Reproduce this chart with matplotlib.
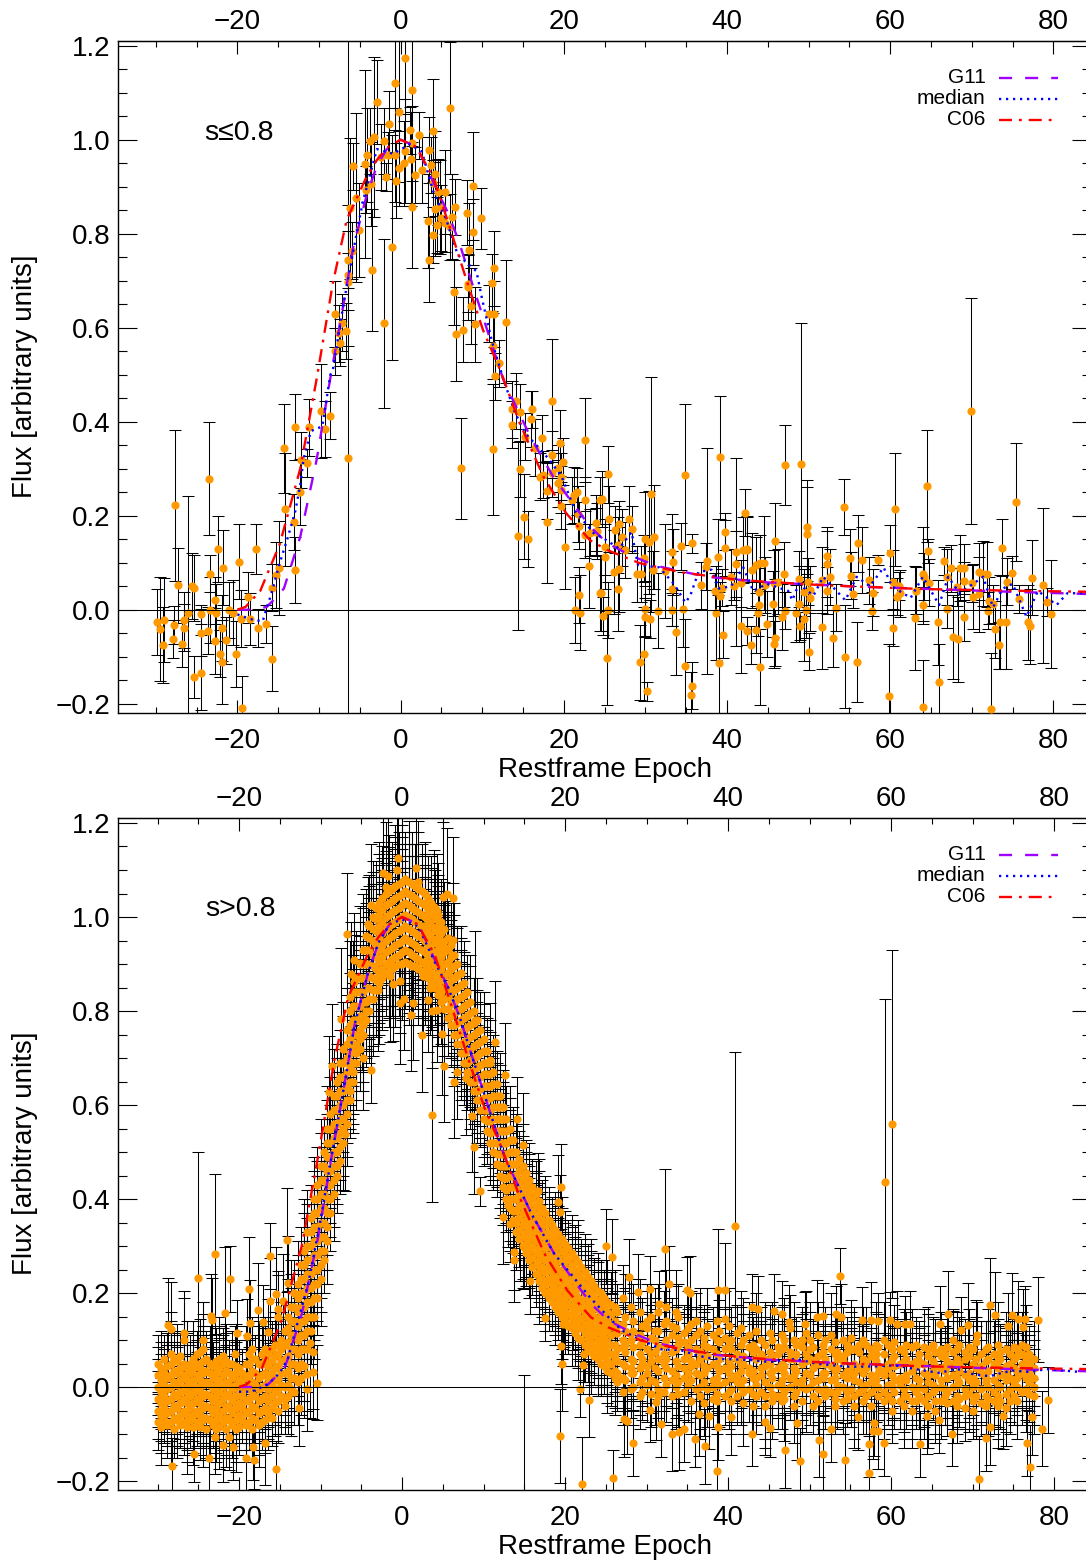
import matplotlib
matplotlib.use('Agg')
import matplotlib.pyplot as plt
from matplotlib.lines import Line2D
from matplotlib.ticker import MultipleLocator

plt.rcParams['font.family'] = ['Liberation Sans', 'DejaVu Sans']
plt.rcParams['lines.scale_dashes'] = False

W, H = 1086, 1561

# model curves, same in both panels
c06_x = [-20, -19, -17.2, -14.8, -12.3, -10.3, -8.3, -6.6, -4.2, -2.9, -1.5, 0, 1.9, 4, 6, 8.1, 10.1, 12.2, 14.6, 17.5, 20.3, 23.2, 25.3, 29.3, 34.6, 41.6, 51.8, 64, 76.3, 85]
c06_y = [0, .006, .04, .14, .30, .49, .695, .83, .92, .957, .985, 1, .985, .92, .815, .70, .595, .51, .397, .283, .205, .148, .127, .099, .079, .063, .052, .044, .04, .038]
g11_x = [-20, -18, -16.4, -15.6, -14.3, -12.3, -10.3, -8.65, -7, -5.8, -4.2, -2.9, -1.7, 0, 2, 4, 5.65, 7.1, 8.9, 11, 12.6, 15.9, 18.7, 23.2, 25.3, 28.1, 31.4, 37.5, 45, 55, 65, 75, 85]
g11_y = [0, 0, .006, .02, .045, .155, .318, .489, .65, .772, .879, .945, .98, 1, .985, .91, .85, .786, .687, .574, .489, .368, .283, .177, .142, .116, .093, .07, .058, .05, .044, .038, .033]

# median, top panel (s<=0.8)
med1_x = [-20, -18.4, -16.9, -16.4, -15.9, -14.8, -13.8, -12.9, -12.3, -11.9, -11, -9.6, -8.6, -8.3, -7, -5.4, -4.6, -2.9, -0.9, 1.1, 2.6, 4, 5.6, 7, 9.3, 10, 11.2, 12.6, 14, 15.3, 17.7, 19.7, 21.4, 23.8, 24.6, 26.8, 28.3, 29.1, 31.7, 33.5, 34.9, 35.5, 36.5, 38.1, 39, 40.5, 42, 43.2, 44.9, 47.5, 48, 48.8, 50.6, 51.8, 54.5, 55.9, 57.5, 59.2, 60.2, 62.5, 64, 66, 67.1, 68.5, 71.4, 72.6, 73.8, 75, 76.7, 78.1, 80.4, 81.7, 85]
med1_y = [-.01, -.02, -.025, .005, .03, .10, .155, .21, .265, .32, .38, .39, .50, .51, .65, .80, .87, .98, .97, .99, .975, .89, .83, .755, .72, .66, .57, .49, .42, .375, .33, .285, .21, .16, .155, .13, .165, .095, .09, .055, .015, .03, .08, .085, .045, .05, .09, .04, .055, .04, .02, .055, .03, .07, .02, .07, .05, .09, .05, .025, .07, .01, .07, .035, .07, .005, .045, .055, -.015, .04, .01, .035, .035]

# median, bottom panel (s>0.8)
med2_x = [-20, -18.5, -16.5, -15, -14, -13, -11.5, -10.1, -8.5, -7, -5.8, -4.2, -2.9, -1.5, 0, 2, 4, 5.65, 7.1, 8.9, 11, 12.6, 15.9, 18.7, 23.1, 25.3, 27, 29, 31.9, 34.1, 36.2, 38.2, 40.6, 43.1, 45.2, 48.4, 50.7, 53, 55, 58.2, 60.5, 64, 66, 68, 70.1, 72.1, 73.6, 75, 76.9, 79.1, 83.2]
med2_y = [-.01, -.01, .005, .03, .06, .125, .22, .345, .505, .65, .772, .879, .945, .985, .995, .98, .905, .85, .786, .687, .574, .489, .368, .283, .19, .149, .12, .103, .08, .079, .067, .06, .059, .057, .053, .06, .05, .046, .043, .044, .046, .035, .03, .039, .027, .023, .03, .035, .032, .038, .032]

# single measurements, top panel
top_x = [-29.8, -29.5, -29, -29.1, -27.8, -27.9, -27.6, -27.3, -26.6, -26.5,
         -26.8, -26.1, -25.6, -25.3, -25.3, -24.4, -24.5, -24.4, -23.5, -23.6,
         -23.4, -23.3, -22.7, -22.6, -22.7, -22.4, -22.1, -21.9, -21.9, -21.8,
         -21.4, -21, -20.6, -20.2, -19.8, -19.6, -19.4, -18.7, -18.5, -17.7,
         -17.5, -16.5, -15.8, -15.8, -15.3, -14.9, -14.3, -14.2, -13.1, -13,
         -13, -12.3, -12.2, -11.5, -11.2, -9.8, -9.3, -8.7, -6.5, -8.1,
         -8, -7.2, -7.6, -6.7, -7.4, -6.4, -6.5, -6.5, -6, -5.1,
         -3.5, -6.2, -5.5, -5.8, -4.4, -4.1, -4.2, -3.6, -3.7, -3.2,
         -2.9, -2, -1.8, -2, -1.4, -2.4, -1.6, -1.1, -.7, -.7,
         -.6, -.2, -.2, .6, .6, .4, 1.4, 1.4, 1.3, 1.2,
         1.4, 1.8, 2.2, 2.6, 4, 3.5, 3.7, 3.5, 3.4, 4.2,
         4, 4.2, 4, 4.4, 4.8, 4.6, 5.5, 5, 5.4, 6.1,
         6.3, 6.7, 6, 6.5, 6.8, 7.6, 8.4, 8.1, 8.9, 8.9,
         9.8, 8.2, 8.3, 8.6, 9.1, 11.4, 11.2, 10.8, 11.4, 12.9,
         11.3, 12, 11.6, 7.4, 11.3, 14.1, 13.7, 14.6, 13.6, 14.6,
         14.4, 15.1, 15.6, 16.1, 16, 15.2, 16.5, 17.3, 18.6, 17.1,
         17.5, 18.5, 18, 18, 19.5, 18.5, 19.3, 19.9, 19.7, 19.3,
         19.7, 19.6, 20.2, 21.2, 21.6, 21, 21.8, 21.9, 22.6, 22.6,
         21.4, 21.9, 22, 22.6, 23.2, 24, 24, 23.1, 24.4, 24.4,
         24.1, 24.7, 25.4, 25.5, 25, 25, 24.5, 24.8, 25.4, 25.3,
         26.1, 26.8, 26.6, 26.3, 26.8, 27.1, 26.6, 28, 28.4, 27.5,
         29, 29.3, 29.5, 29.8, 30, 29.9, 30, 29.8, 30.2, 30.6,
         30.5, 31.1, 30.7, 30.9, 31.6, 32.4, 33.2, 33.4, 33.3, 33.3,
         33.7, 34.4, 34.8, 34.6, 34.9, 35.7, 35.7, 35.6, 36.8, 37.4,
         37.6, 38.9, 38.5, 38.7, 39.1, 39.4, 39.2, 39, 39.5, 39.8,
         39.8, 40.5, 40.8, 41.1, 41.1, 41.7, 41.7, 42.2, 42.4, 41.9,
         42.5, 42.4, 42.9, 43.1, 43.6, 43.9, 43.9, 43.8, 43.5, 44.1,
         44, 44.5, 44.7, 44.9, 45.6, 45.9, 45.9, 45.8, 45.7, 46.3,
         46.7, 47, 47.1, 47.1, 48.5, 48.8, 48.8, 48.9, 49.1, 49.4,
         49.4, 49.7, 49.8, 49.8, 49.9, 50.2, 50.2, 50.1, 51.6, 51.7,
         52.2, 52.3, 52.6, 52.3, 53, 53.3, 54.3, 54.5, 55.1, 55.2,
         55.5, 55.9, 56, 56.5, 57.4, 57.9, 57.8, 58.5, 60, 59.8,
         60.3, 60.6, 60.3, 60.8, 61.1, 61.2, 63, 63.2, 64, 64,
         64, 64.1, 64.5, 64.6, 64.8, 65.8, 66, 66.6, 67, 67,
         67.4, 67.7, 68.3, 68.2, 68.5, 69, 69, 69, 69.9, 70,
         70.1, 70.9, 70.9, 71.4, 71.9, 72.1, 72, 72.6, 72.4, 72.8,
         73.3, 73.5, 74.2, 73.7, 74.3, 74.9, 75.4, 75.8, 76.9, 77.1,
         77.4, 78.7, 79.2, 79.7]
top_y = [-.027, -.041, -.022, -.075, -.033, -.062, .222, .052, -.038, -.022,
         -.072, -.008, .05, .047, -.143, -.134, -.01, -.049, .279, -.045,
         0, .077, .02, -.006, -.067, .13, -.094, -.039, -.111, .089,
         -.065, 0, -.006, -.094, .102, -.019, -.21, .026, -.02, .13,
         -.039, -.031, -.104, .047, .073, .088, .343, .214, .186, .389,
         .085, .251, .319, .312, .388, .423, .384, .413, .323, .55,
         .63, .611, .588, .593, .568, .712, .698, .745, .764, .808,
         .723, .854, .877, .943, .949, .968, .893, .906, .998, 1.005,
         1.08, .998, .921, .609, 1.033, .964, .967, .771, 1.12, .967,
         .913, 1.06, .939, 1.174, .976, .95, 1.105, .857, .96, 1.02,
         .992, .925, 1.01, .935, 1.019, .978, .946, .745, .828, .928,
         .907, .852, .797, .818, .857, .889, .889, .833, .822, 1.067,
         .836, .857, .815, .675, .586, .596, .765, .845, .901, .804,
         .833, .687, .694, .646, .607, .726, .696, .63, .63, .613,
         .561, .524, .497, .301, .341, .444, .426, .42, .394, .299,
         .157, .198, .15, .426, .406, .368, .345, .365, .445, .283,
         .287, .29, .252, .186, .354, .33, .301, .315, .283, .269,
         .255, .221, .134, .244, .251, .233, .203, .179, .233, .361,
         -.001, .031, -.006, .159, .164, .185, .166, .093, .035, .233,
         .167, .235, .288, .193, .134, .113, .035, -.013, 0, -.102,
         .08, .086, .045, .17, .182, .154, .138, .194, .171, .127,
         .076, -.112, .076, .109, .15, .001, -.016, -.094, -.174, -.02,
         .143, .155, .246, .084, -.002, .082, .123, .101, 0, .045,
         -.048, .135, .287, .001, -.119, .141, -.162, -.182, .052, .091,
         .104, .112, .039, -.008, .03, .047, .324, -.113, -.053, .166,
         .131, .07, .05, .123, .098, .056, -.035, .206, .128, .127,
         .13, -.045, -.075, .084, .095, .038, .01, -.006, -.043, -.122,
         .1, .1, .052, -.03, .012, .146, -.06, -.074, .057, .06,
         -.016, .075, .307, -.002, -.008, .065, .012, -.034, .311, .037,
         -.02, 0, .177, .162, .06, .042, .024, -.089, -.037, .063,
         .098, .115, .07, .04, -.061, .004, .218, -.1, .111, .072,
         .033, -.111, .141, .106, .063, .036, -.003, .106, .12, -.184,
         .058, .214, -.038, .028, .051, .035, -.018, .04, .009, .077,
         -.208, .07, .263, .125, .057, -.027, -.153, .104, .07, .001,
         .088, -.058, -.063, .048, .088, .089, -.016, .061, .423, .056,
         .028, .081, .033, .077, .075, .019, -.002, .012, -.212, -.042,
         -.076, -.026, -.027, .132, .06, .079, .229, .022, -.027, -.035,
         .068, .052, .017, -.009]
top_e = [.07, .11, .09, .08, .04, .04, .16, .08, .05, .06,
         .05, .25, .07, .07, .045, .08, .02, .05, .12, .05,
         .07, .04, .05, .06, .07, .07, .05, .07, .09, .08,
         .05, .06, .07, .07, .08, .06, .07, .055, .055, .053,
         .04, .04, .07, .05, .07, .10, .095, .12, .06, .07,
         .07, .07, .06, .03, .06, .10, .06, .05, 1.0, .05,
         .07, .06, .06, .06, .05, .15, .06, .06, .06, .10,
         .13, .15, .18, .05, .20, .10, .05, .09, .07, .17,
         .09, .07, .03, .18, .07, .07, .05, .24, .10, .10,
         .08, .15, .08, .12, .11, .09, .11, .13, .10, .05,
         .08, .06, .05, .07, .11, .07, .06, .09, .10, .09,
         .05, .10, .06, .06, .10, .07, .09, .07, .06, .14,
         .09, .06, .07, .07, .10, .07, .10, .07, .115, .07,
         .065, .07, .06, .08, .08, .08, .06, .06, .07, .13,
         .07, .05, .05, .107, .14, .06, .06, .06, .05, .06,
         .20, .09, .06, .04, .06, .05, .06, .05, .13, .05,
         .05, .05, .06, .13, .07, .05, .05, .05, .05, .05,
         .05, .05, .09, .06, .05, .05, .06, .05, .05, .09,
         .07, .06, .08, .05, .05, .06, .05, .09, .08, .05,
         .06, .06, .06, .07, .06, .07, .08, .04, .06, .10,
         .09, .09, .09, .05, .05, .06, .06, .07, .05, .06,
         .06, .08, .06, .05, .10, .06, .04, .10, .02, .04,
         .11, .11, .25, .04, .08, .10, .08, .07, .035, .08,
         .09, .05, .15, .08, .10, .02, .05, .05, .05, .05,
         .24, .08, .04, .10, .03, .04, .13, .15, .05, .04,
         .06, .06, .03, .20, .07, .05, .10, .05, .07, .07,
         .07, .03, .04, .08, .06, .05, .05, .05, .05, .08,
         .06, .10, .06, .07, .07, .08, .06, .05, .07, .07,
         .07, .07, .085, .04, .06, .06, .08, .03, .30, .05,
         .09, .06, .10, .10, .05, .05, .07, .04, .09, .07,
         .07, .06, .06, .05, .06, .05, .06, .11, .06, .05,
         .03, .085, .06, .07, .05, .05, .04, .01, .06, .11,
         .07, .12, .04, .04, .03, .05, .11, .05, .04, .10,
         .10, .05, .12, .025, .05, .09, .08, .03, .06, .04,
         .05, .09, .09, .04, .07, .05, .05, .04, .24, .04,
         .07, .06, .08, .07, .07, .05, .04, .04, .12, .06,
         .05, .10, .10, .06, .05, .035, .125, .03, .08, .08,
         .08, .165, .03, .115]

# isolated measurements, bottom panel
bot_x = [-28.7, -28.3, -26.8, -26.8, -25, -24.4, -23.4, -23.3, -23, -21.7,
         -21.1, -20.2, -18.8, -19, -18.6, -17.7, -17.1, -16.2, -16.2, -15.5,
         -15.2, -15.2, -14.6, -14.1, -14, -16.4, -20.5, -25.5, -23.7, -28.2,
         -19.2, -18.2, -15.5, -18.3, -16.8, -20.7, -22, -22.9, -21.2, -12.6,
         -11.3, -10.9, -11.7, -10.9, -11.6, -10.4, -.45, -.6, -2.3, -1.7,
         1.7, 2, -2, 5, 5.5, 6.3, 3.9, 4.3, -3.8, -4.2,
         -6.7, 6.2, 5.3, 6, 6.7, -5.9, -5.2, -6.3, -5.9, -6.4,
         -2.9, -1.5, -1.1, -.3, 2.6, 3.4, -.3, .2, 1.4, 1.1,
         3.2, 3.7, 4.3, 2.4, 4.9, 5.2, 6.8, 6.4, 7.8, 3.7,
         -3.8, -7.5, -8.6, -8.9, -7, -4.8, -4.9, 12.6, 11.4, 10.8,
         8.9, 14.1, 8.8, 8.6, 14.8, 9.6, 12.4, 13.2, 13, 14.5,
         15, 13.7, 13.7, 15.7, 17.5, 16.7, 19.5, 19.2, 19.4, 19.7,
         19.9, 19.5, 19.6, 19.4, 22.1, 22.3, 22.2, 21.9, 23, 21,
         15, 25, 25.8, 27.8, 29, 30.4, 32.3, 32.8, 35, 35.3,
         31.5, 40.9, 38.8, 39.6, 53.8, 60.1, 59.3, 43, 43.7, 45.6,
         46.6, 47.5, 49.5, 50.9, 51.7, 53.3, 53.9, 56.4, 57.5, 58.4,
         59.9, 60.7, 61.7, 62.3, 67, 66, 69.5, 68.6, 72.1, 72.7,
         74.8, 74.3, 75.6, 76.4, 78, 70.5, 67.6, 76.2, 25.9, 28.4,
         27.2, 27.6, 30.4, 31.2, 31.8, 33.1, 34, 34.6, 35.9, 37.2,
         36.5, 37.7, 38.8, 38.6, 40.4, 43, 44.6, 45.2, 47, 48.5,
         48.8, 51.2, 51.6, 52.6, 54.4, 57.3, 57.3, 57.8, 58.4, 59.2,
         57.9, 55.9, 63.6, 64.4, 65.9, 67.5, 71.6, 72.2, 70.8, 73.7,
         76.7, 77.1, 78.5, 77.3, 79.3]
bot_y = [.131, .123, .115, .1, .231, .1, .151, .142, .283, .158,
         .23, .115, .209, .108, .137, .163, .138, .279, .184, .198,
         .167, .149, .184, .313, .222, .117, .07, -.143, -.15, -.169,
         -.152, -.156, -.174, -.128, -.119, -.128, -.123, -.106, -.106, -.045,
         .094, .074, .028, .032, -.004, .009, 1.125, 1.1, 1.093, 1.088,
         1.105, 1.075, 1.063, 1.043, 1.049, 1.04, 1.022, 1.013, 1.026, .986,
         .963, .952, .933, .894, .877, .908, .903, .879, .862, .829,
         .845, .875, .857, .864, .874, .848, .818, .826, .816, .792,
         .823, .799, .802, .748, .751, .684, .671, .65, .657, .579,
         .674, .783, .684, .627, .538, .699, .774, .664, .733, .696,
         .781, .57, .511, .577, .515, .416, .362, .346, .387, .316,
         .298, .287, .27, .225, .147, .418, .426, .394, .372, .135,
         .156, .087, .05, -.104, -.206, .071, .046, -.004, -.027, .138,
         -.24, .299, .277, .235, .202, .209, .293, .22, .207, .199,
         .176, .343, .207, .206, .236, .56, .436, .17, .167, .161,
         .155, .138, .133, .148, .151, .155, .15, .142, .143, .14,
         .142, .135, .133, .135, .156, .135, .131, .121, .175, .154,
         .153, .13, .145, .145, .143, .11, .101, .128, -.194, -.119,
         -.068, -.072, -.048, -.032, -.079, -.099, -.096, -.089, -.111, -.126,
         -.057, -.062, -.085, -.179, -.064, -.099, -.074, -.088, -.135, -.076,
         -.158, -.112, -.142, -.089, -.156, -.184, -.121, -.094, -.094, -.119,
         -.077, -.064, -.121, -.062, -.07, -.099, -.109, -.085, -.195, -.062,
         -.119, -.17, -.089, -.064, -.028]
bot_e = [.10, .10, .09, .09, .27, .08, .09, .09, .17, .14,
         .07, .07, .11, .08, .09, .10, .08, .07, .09, .10,
         .08, .09, .10, .11, .10, .07, .06, .06, .07, .06,
         .07, .06, .06, .07, .09, .07, .08, .08, .07, .08,
         .16, .12, .08, .10, .09, .08, .12, .12, .16, .13,
         .11, .13, .14, .16, .14, .13, .12, .12, .13, .10,
         .13, .12, .11, .10, .10, .10, .12, .11, .10, .12,
         .13, .14, .12, .11, .12, .10, .13, .11, .12, .12,
         .11, .12, .11, .12, .13, .12, .10, .12, .12, .186,
         .07, .15, .13, .12, .12, .11, .10, .11, .13, .12,
         .19, .09, .10, .12, .11, .03, .10, .08, .09, .09,
         .09, .08, .09, .07, .05, .08, .09, .10, .08, .09,
         .07, .08, .10, .10, .10, .06, .06, .06, .08, .06,
         .265, .08, .08, .08, .08, .07, .17, .08, .07, .08,
         .07, .37, .13, .10, .06, .37, .39, .07, .07, .08,
         .07, .08, .07, .08, .07, .06, .07, .07, .08, .06,
         .06, .07, .06, .07, .09, .08, .09, .07, .10, .09,
         .09, .07, .08, .07, .09, .07, .06, .08, .06, .07,
         .08, .07, .07, .08, .07, .08, .08, .07, .06, .08,
         .09, .07, .07, .09, .08, .07, .07, .06, .08, .08,
         .07, .08, .08, .07, .08, .08, .07, .06, .08, .07,
         .07, .07, .07, .08, .07, .07, .07, .08, .09, .07,
         .07, .09, .08, .08, .07]

# dense part of the bottom panel, one column of fluxes per epoch
band_x = [-30, -29.6, -29.2, -28.8, -28.4, -28, -27.6, -27.2, -26.8, -26.4,
          -26, -25.6, -25.2, -24.8, -24.4, -24, -23.6, -23.2, -22.8, -22.4,
          -22, -21.6, -21.2, -20.8, -20.4, -20, -19.6, -19.2, -18.8, -18.4,
          -18, -17.6, -17.2, -16.8, -16.4, -16, -15.6, -15.2, -14.8, -14.4,
          -14, -13.6, -13.2, -12.8, -12.4, -12, -11.6, -11.2, -10.8, -10.4,
          -10, -9.6, -9.2, -8.8, -8.4, -8, -7.6, -7.2, -6.8, -6.4,
          -6, -5.6, -5.2, -4.8, -4.4, -4, -3.6, -3.2, -2.8, -2.4,
          -2, -1.6, -1.2, -.8, -.4, 0, .4, .8, 1.2, 1.6,
          2, 2.4, 2.8, 3.2, 3.6, 4, 4.4, 4.8, 5.2, 5.6,
          6, 6.4, 6.8, 7.2, 7.6, 8, 8.4, 8.8, 9.2, 9.6,
          10, 10.4, 10.8, 11.2, 11.6, 12, 12.4, 12.8, 13.2, 13.6,
          14, 14.4, 14.8, 15.2, 15.6, 16, 16.4, 16.8, 17.2, 17.6,
          18, 18.4, 18.8, 19.2, 19.6, 20, 20.4, 20.8, 21.2, 21.6,
          22, 22.4, 22.8, 23.2, 23.6, 24, 24.4, 24.8, 25.2, 25.6,
          26.1, 26.4, 27.1, 27.4, 28.1, 28.3, 29.2, 29.4, 30, 30.6,
          31.1, 31.4, 32.1, 32.4, 33.1, 33.6, 33.9, 34.6, 35.1, 35.4,
          36.1, 36.6, 37.1, 37.4, 38.1, 38.6, 38.9, 39.6, 40.1, 40.4,
          41.1, 41.6, 41.9, 42.6, 43.1, 43.4, 44.1, 44.6, 45.1, 45.4,
          46.1, 46.6, 46.9, 47.6, 48.1, 48.4, 49.1, 49.6, 50.1, 50.4,
          51.1, 51.6, 51.9, 52.6, 53.1, 53.4, 54.1, 54.6, 55.1, 55.4,
          56.1, 56.6, 56.9, 57.6, 58.1, 58.4, 59.1, 59.6, 60.1, 60.4,
          61.1, 61.6, 61.9, 62.6, 63.1, 63.4, 64.1, 64.6, 65.1, 65.4,
          66.1, 66.6, 66.9, 67.6, 68.1, 68.4, 69.1, 69.6, 70.1, 70.4,
          71.1, 71.6, 71.9, 72.6, 73.1, 73.4, 74.1, 74.6, 75.1, 75.4,
          76.1, 76.6, 76.9, 77.6, 78.1, 78.4, 79.1, 79.6, 80]
band_e = [.06, .08, .05, .07, .09, .06, .08, .05, .07, .10,
          .06, .08, .05, .07, .10, .06, .08, .05, .07, .09,
          .06, .08, .05, .07, .09, .06, .05, .08, .06, .07,
          .05, .09, .06, .07, .08, .06, .07, .07, .08, .06,
          .08, .10, .07, .09, .08, .11, .09, .07, .09, .08,
          .10, .07, .09, .08, .10, .08, .07, .10, .09, .08,
          .11, .10, .09, .12, .10, .11, .12, .10, .13, .11,
          .09, .12, .10, .13, .11, .12, .10, .13, .11, .09,
          .12, .10, .11, .09, .10, .08, .11, .09, .10, .08,
          .09, .11, .08, .10, .09, .08, .10, .07, .09, .08,
          .10, .07, .09, .08, .07, .09, .08, .07, .09, .07,
          .08, .06, .09, .07, .08, .06, .07, .09, .06, .08,
          .07, .06, .08, .06, .09, .07, .06, .08, .07, .09,
          .06, .08, .07, .09, .06, .08, .07, .06, .09, .07,
          .08, .06, .07, .09, .06, .08, .07, .06, .08, .07,
          .09, .06, .07, .08, .06, .09, .07, .06, .08, .07,
          .06, .09, .07, .08, .06, .07, .09, .06, .08, .07,
          .06, .08, .09, .07, .06, .08, .07, .09, .06, .08,
          .07, .06, .09, .07, .08, .06, .07, .09, .08, .06,
          .07, .08, .07, .09, .06, .08, .07, .06, .08, .09,
          .06, .07, .08, .06, .09, .07, .08, .06, .07, .08,
          .06, .09, .07, .08, .06, .07, .08, .09, .06, .07,
          .08, .06, .07, .09, .08, .06, .07, .08, .06, .09,
          .07, .06, .08, .07, .09, .06, .08, .07, .06, .08,
          .07, .09, .06, .08, .07, .06, .08, .07, .06]
band_y = [
    [.05, .025, 0, -.025, -.05, -.075], [.04, .015, -.01, -.035, -.06, -.085], [.06, .03, .005, -.02, -.045, -.07], [.045, .02, -.005, -.03, -.055, -.08], [.07, .05, .025, 0, -.025, -.05, -.075],
    [.06, .035, .01, -.015, -.04, -.065, -.09], [.055, .03, .005, -.02, -.045, -.07], [.065, .04, .015, -.01, -.035, -.06, -.08], [.05, .025, 0, -.025, -.05, -.075], [.04, .015, -.01, -.035, -.06, -.085],
    [.05, .03, .005, -.02, -.045, -.07], [.06, .04, .015, -.01, -.035, -.06, -.085], [.07, .05, .025, 0, -.025, -.05, -.075], [.075, .04, .015, -.01, -.035, -.06, -.085], [.08, .055, .03, .005, -.02, -.045, -.07],
    [.06, .035, .01, -.015, -.04, -.065, -.09], [.05, .03, .005, -.02, -.045, -.07], [.045, .02, -.005, -.03, -.055, -.08], [.055, .03, .005, -.02, -.045, -.07, -.09], [.06, .04, .015, -.01, -.035, -.06, -.085],
    [.065, .05, .025, 0, -.025, -.05, -.075], [.055, .035, .01, -.015, -.04, -.065, -.09], [.05, .03, .005, -.02, -.045, -.07], [.05, .02, -.005, -.03, -.055, -.08], [.045, .03, .005, -.02, -.045, -.07, -.09],
    [.04, .015, -.01, -.035, -.06, -.085], [.03, .005, -.02, -.045, -.07], [.05, .02, -.005, -.03, -.055, -.08], [.07, .05, .025, 0, -.025, -.05, -.075], [.08, .06, .035, .01, -.015, -.04, -.065, -.09],
    [.06, .03, .005, -.02, -.045, -.07], [.05, .02, -.005, -.03, -.055, -.08], [.07, .05, .025, 0, -.025, -.05, -.075], [.08, .055, .03, .005, -.02, -.045, -.07], [.07, .045, .02, -.005, -.03, -.055],
    [.08, .055, .03, .005, -.02, -.045, -.065], [.09, .065, .04, .015, -.01, -.035], [.09, .07, .045, .02, -.005, -.03, -.05], [.1, .08, .055, .03, .005, -.02], [.12, .09, .06, .03, 0, -.025, -.04],
    [.15, .125, .095, .065, .035, .005, -.02], [.17, .14, .11, .08, .05, .02, -.005], [.2, .17, .14, .11, .08, .05, .02, -.01], [.22, .19, .16, .13, .1, .07, .04, .01], [.26, .23, .2, .17, .14, .11, .08, .05, .02],
    [.29, .26, .23, .2, .17, .14, .11, .08, .045], [.33, .3, .27, .24, .21, .18, .15, .12, .08], [.36, .33, .3, .27, .24, .21, .18, .15, .12], [.4, .37, .34, .31, .28, .25, .22, .19, .15], [.43, .4, .37, .34, .31, .28, .25, .22, .19],
    [.47, .44, .41, .38, .35, .32, .29, .26, .23], [.5, .47, .44, .41, .38, .35, .32, .29, .27], [.55, .52, .49, .46, .43, .4, .37, .34, .31], [.58, .55, .52, .49, .46, .43, .4, .37], [.62, .59, .56, .53, .5, .47, .44, .41],
    [.65, .62, .59, .56, .53, .5, .47, .45], [.69, .66, .63, .6, .57, .54, .51, .48], [.72, .69, .66, .63, .6, .57, .55, .52], [.76, .73, .7, .67, .64, .61, .58, .56], [.8, .77, .74, .71, .68, .65, .63, .61],
    [.84, .81, .78, .75, .72, .69, .67, .65], [.87, .84, .81, .78, .75, .73, .71, .69], [.9, .87, .84, .81, .79, .76, .74, .72], [.93, .9, .87, .84, .82, .79, .77, .75], [.96, .93, .9, .87, .85, .82, .8, .78],
    [.98, .955, .93, .9, .875, .85, .825, .8], [1, .975, .95, .92, .895, .87, .845, .825], [1.02, .995, .97, .94, .915, .89, .865, .845], [1.03, 1.005, .98, .955, .93, .905, .88, .86], [1.04, 1.015, .99, .965, .94, .915, .89, .87],
    [1.05, 1.025, 1, .975, .95, .925, .9, .88], [1.055, 1.03, 1.005, .98, .955, .93, .905, .885], [1.06, 1.035, 1.01, .985, .96, .935, .91, .89], [1.065, 1.04, 1.015, .99, .965, .94, .915, .895], [1.07, 1.045, 1.02, .995, .97, .945, .92, .9],
    [1.075, 1.05, 1.025, 1, .975, .95, .925, .9], [1.08, 1.055, 1.03, 1.005, .98, .955, .93, .905], [1.075, 1.05, 1.025, 1, .975, .95, .925, .9], [1.07, 1.045, 1.02, .995, .97, .945, .92, .895], [1.065, 1.04, 1.015, .99, .965, .94, .915, .895],
    [1.06, 1.035, 1.01, .985, .96, .935, .91, .89], [1.055, 1.03, 1.005, .98, .955, .93, .905, .885], [1.05, 1.025, 1, .975, .95, .925, .9, .88], [1.04, 1.015, .99, .965, .94, .915, .89, .87], [1.03, 1.005, .98, .955, .93, .905, .88, .86],
    [1.02, .995, .97, .945, .92, .895, .87, .85], [1.005, .98, .955, .93, .905, .88, .855, .835], [.99, .965, .94, .915, .89, .865, .84, .82], [.975, .95, .925, .9, .875, .85, .825, .805], [.955, .93, .905, .88, .855, .83, .805, .785],
    [.94, .915, .89, .865, .84, .815, .79, .77], [.92, .895, .87, .845, .82, .795, .77, .75], [.9, .875, .85, .825, .8, .775, .75, .73], [.88, .855, .83, .805, .78, .755, .73, .71], [.86, .835, .81, .785, .76, .735, .71, .69],
    [.84, .815, .79, .765, .74, .715, .69, .67], [.82, .795, .77, .745, .72, .695, .67, .65], [.8, .775, .75, .725, .7, .675, .65, .63], [.78, .755, .73, .705, .68, .655, .63, .61], [.76, .735, .71, .685, .66, .635, .61, .59],
    [.74, .715, .69, .665, .64, .615, .59, .57], [.715, .69, .665, .64, .615, .59, .565, .545], [.69, .665, .64, .615, .59, .565, .54, .52], [.67, .645, .62, .595, .57, .545, .52, .5], [.645, .62, .595, .57, .545, .52, .495, .475],
    [.62, .595, .57, .545, .52, .495, .47, .45], [.595, .57, .545, .52, .495, .47, .445, .425], [.57, .545, .52, .495, .47, .445, .42, .4], [.55, .525, .5, .475, .45, .425, .4, .38], [.525, .5, .475, .45, .425, .4, .375, .355],
    [.5, .475, .45, .425, .4, .375, .35, .33], [.485, .46, .435, .41, .385, .36, .335, .315], [.47, .445, .42, .395, .37, .345, .32, .3], [.455, .43, .405, .38, .355, .33, .305, .285], [.44, .415, .39, .365, .34, .315, .29, .27],
    [.425, .4, .375, .35, .325, .3, .275, .255], [.41, .385, .36, .335, .31, .285, .26, .24], [.395, .37, .345, .32, .295, .27, .245, .225], [.38, .355, .33, .305, .28, .255, .23, .21], [.37, .345, .32, .295, .27, .245, .22, .2],
    [.355, .33, .305, .28, .255, .23, .205, .19], [.345, .32, .295, .27, .245, .22, .195, .18], [.335, .31, .285, .26, .235, .21, .19, .17], [.325, .3, .275, .25, .225, .2, .18, .16], [.315, .29, .265, .24, .215, .19, .17, .15],
    [.305, .28, .255, .23, .205, .18, .16, .14], [.295, .27, .245, .22, .195, .175, .155, .13], [.285, .26, .235, .21, .19, .17, .15, .125], [.275, .25, .225, .2, .18, .16, .14, .115], [.265, .24, .215, .19, .17, .15, .13, .105],
    [.255, .23, .21, .185, .165, .145, .125, .1], [.245, .22, .2, .175, .155, .135, .115, .09], [.235, .21, .19, .17, .15, .13, .105, .08], [.225, .2, .18, .16, .14, .12, .095, .075], [.215, .19, .17, .15, .13, .11, .085, .065],
    [.205, .185, .165, .145, .125, .1, .08, .06], [.2, .175, .155, .135, .115, .09, .07, .05], [.19, .17, .15, .13, .105, .085, .065, .045], [.18, .16, .14, .12, .095, .075, .055, .035], [.175, .155, .13, .11, .09, .07, .05, .03],
    # tail
    [.17, .14, .125, .09, .07, .06, .035, .02], [.16, .13, .115, .08, .055, .03, .01], [.19, .135, .1, .085, .05, .02, -.01], [.15, .12, .09, .075, .045, .015], [.17, .115, .1, .06, .04, .03, -.005],
    [.14, .12, .085, .055, .03, 0], [.16, .11, .09, .07, .04, .01, -.02], [.13, .095, .06, .05, .02, -.01], [.14, .125, .08, .045, .03, .005], [.15, .105, .07, .055, .015, -.015],
    [.12, .1, .075, .04, .01], [.16, .12, .085, .06, .035, -.005, -.02], [.135, .09, .07, .05, .02, -.01], [.17, .14, .1, .06, .04, .005], [.13, .11, .075, .035, .015, -.02],
    [.16, .125, .08, .055, .025, 0], [.15, .105, .09, .045, .01, -.015], [.115, .095, .06, .04, .02, -.01], [.125, .085, .07, .03, .005], [.135, .1, .055, .045, .015, -.03],
    [.14, .11, .08, .05, .03, -.005], [.12, .075, .06, .025, 0, -.02], [.105, .09, .045, .03, .01, -.035], [.13, .085, .065, .04, -.005], [.11, .08, .05, .015, 0, -.025],
    [.14, .1, .07, .045, .02, -.015, -.03], [.12, .095, .06, .035, .005], [.145, .105, .08, .04, .01, -.02], [.13, .09, .055, .03, -.01], [.1, .08, .045, .02, -.005, -.03],
    [.115, .07, .06, .025, .01, -.02], [.125, .09, .05, .035, 0], [.1, .065, .05, .015, -.01, -.035], [.11, .085, .04, .03, -.005], [.09, .075, .035, .02, -.015, -.04],
    [.12, .08, .06, .02, .005, -.02], [.1, .07, .04, .025, -.01], [.09, .06, .045, .01, -.02, -.04], [.115, .075, .05, .03, 0], [.1, .065, .035, .02, -.015, -.03],
    [.085, .07, .04, .005, -.02], [.11, .08, .05, .015, 0, -.03], [.1, .085, .045, .03, -.01, -.025], [.125, .075, .06, .02, 0], [.1, .06, .04, .025, -.02, -.04],
    [.09, .07, .035, .01, -.01], [.1, .085, .05, .015, 0, -.03], [.115, .07, .055, .03, -.005], [.1, .08, .06, .025, 0], [.085, .055, .04, .01, -.02, -.04],
    [.11, .065, .05, .015, -.005, -.03], [.09, .075, .03, .02, -.01], [.1, .06, .05, .03, -.005, -.02], [.11, .08, .045, .015, -.01], [.095, .07, .035, .02, -.025, -.04],
    [.075, .06, .04, .005, -.01], [.1, .065, .055, .025, 0, -.03], [.09, .075, .035, .02, -.01, -.025], [.105, .08, .045, .03, -.005], [.08, .05, .03, .015, -.02, -.04],
    [.09, .075, .04, .01, -.01], [.1, .06, .05, .03, -.005, -.03], [.09, .055, .04, .005, -.02], [.08, .065, .025, .01, -.01, -.04], [.09, .07, .055, .015, 0],
    [.085, .045, .03, 0, -.02], [.1, .07, .035, .025, -.01, -.03], [.09, .05, .04, .005, -.02], [.08, .06, .025, 0, -.03, -.05], [.095, .065, .045, .015, -.01],
    [.08, .05, .02, .005, -.03], [.075, .055, .02, -.005, -.02, -.04], [.09, .06, .025, .015, -.02], [.085, .05, .035, 0, -.03, -.05], [.09, .055, .045, .02, -.01, -.03],
    [.07, .055, .015, 0, -.02], [.085, .05, .03, -.005, -.03], [.08, .065, .025, .01, -.02, -.04], [.09, .055, .035, .005, -.01], [.075, .045, .025, -.005, -.03, -.05],
    [.08, .065, .04, .015, 0, -.03], [.07, .045, .035, -.005, -.02], [.085, .055, .045, .02, -.01, -.035], [.075, .05, .025, 0, -.03], [.08, .06, .02, .005, -.02, -.04],
    [.09, .05, .035, .01, -.025], [.075, .06, .025, -.005, -.02, -.045], [.085, .065, .03, .015, -.015], [.08, .05, .02, 0, -.03, -.05], [.095, .06, .04, .01, -.02],
    [.07, .045, .03, -.005, -.035], [.08, .055, .02, .01, -.02, -.04], [.085, .06, .035, 0, -.025], [.07, .05, .015, -.01, -.03], [.09, .055, .04, .005, -.02, -.04],
    [.075, .06, .025, 0, -.03], [.08, .045, .03, .015, -.015, -.045], [.07, .05, .02, -.005, -.03], [.085, .06, .04, .01, -.02], [.08, .065, .035, .02, 0, -.03],
    [.09, .07, .05, .03, -.01], [.085, .06, .045, .02, -.005], [.07, .05, .03, .01, -.015], [.06, .04, .02, 0, -.02]]

# legend text is the same in both panels
legend_labels = ['G11', 'median', 'C06']
legend_y = [76, 97, 118]
top_ticks = [-20, 0, 20, 40, 60, 80]


def fx(px):
    return px / W


def fy(py):
    return 1 - py / H


def draw_legend(fig, dy):
    styles = [('#a000ff', (0, (9.4, 9.4))), ('#0000ff', (0, (1.6, 3.44))), ('#ff0000', (0, (9.4, 5, 2, 5)))]
    for label, py, (col, ls) in zip(legend_labels, legend_y, styles):
        fig.text(fx(985.5), fy(py + dy + 7), label, ha='right', va='baseline', fontsize=15)
        fig.add_artist(Line2D([fx(999), fx(1058)], [fy(py + dy + 1.5)] * 2, color=col, lw=1.7, ls=ls))


def setup_axes(fig, top, bottom, x0, scale, y0):
    ax = fig.add_axes([fx(117.5), fy(bottom), (1091 - 117.5) / W, (bottom - top) / H])
    ax.set_xlim((117.5 - x0) / scale, (1091 - x0) / scale)
    ax.set_ylim((y0 - bottom) / 470, (y0 - top) / 470)
    ax.xaxis.set_major_locator(MultipleLocator(20))
    ax.xaxis.set_minor_locator(MultipleLocator(5))
    ax.yaxis.set_major_locator(MultipleLocator(0.2))
    ax.yaxis.set_minor_locator(MultipleLocator(0.05))
    ax.tick_params(axis='x', which='major', length=9.4, width=0.8, direction='in', top=True, labelsize=20, pad=11)
    ax.tick_params(axis='x', which='minor', length=4.3, width=0.8, direction='in', top=True)
    ax.tick_params(axis='y', which='major', length=13.7, width=0.8, direction='in', right=True, labelsize=20, pad=5)
    ax.tick_params(axis='y', which='minor', length=6.8, width=0.8, direction='in', right=True)
    for sp in ax.spines.values():
        sp.set_linewidth(1.0)
    # labels above the panel sit closer to the frame than the ones below
    sec = ax.secondary_xaxis('top')
    sec.set_xticks(top_ticks)
    sec.tick_params(axis='x', which='major', length=0, labelsize=20, pad=4)
    return ax


def draw_points(ax, x, y, e):
    ax.errorbar(x, y, yerr=e, fmt='none', ecolor='black', elinewidth=0.75, capsize=4.3, capthick=0.75, zorder=2)
    ax.plot(x, y, 'o', color='#ff9900', ms=5.9, mew=0, zorder=3)


def draw_curves(ax, med_x, med_y):
    ax.axhline(0, color='black', lw=0.75, zorder=4)
    ax.plot(g11_x, g11_y, color='#a000ff', lw=1.7, ls=(0, (9.4, 9.4)), zorder=5)
    ax.plot(med_x, med_y, color='#0000ff', lw=1.7, ls=(0, (1.6, 3.44)), zorder=6)
    ax.plot(c06_x, c06_y, color='#ff0000', lw=1.7, ls=(0, (9.4, 5, 2, 5)), zorder=7)


def main():
    fig = plt.figure(figsize=(W / 100, H / 100), dpi=100)

    ax1 = setup_axes(fig, 40.7, 712.7, 400.6, 8.16, 609.7)
    draw_points(ax1, top_x, top_y, top_e)
    draw_curves(ax1, med1_x, med1_y)

    ax2 = setup_axes(fig, 818, 1490, 402, 8.15, 1387)
    draw_x, draw_y, draw_e = list(bot_x), list(bot_y), list(bot_e)
    for x, e, ys in zip(band_x, band_e, band_y):
        for y in ys:
            draw_x.append(x)
            draw_y.append(y)
            draw_e.append(e)
    draw_points(ax2, draw_x, draw_y, draw_e)
    draw_curves(ax2, med2_x, med2_y)

    fig.text(fx(604.5), fy(770), 'Restframe Epoch', ha='center', va='center', fontsize=20)
    fig.text(fx(604.5), fy(1547.5), 'Restframe Epoch', ha='center', va='center', fontsize=20)
    fig.text(fx(25), fy(376), 'Flux [arbitrary units]', rotation=90, ha='center', va='center', fontsize=20)
    fig.text(fx(25), fy(1153), 'Flux [arbitrary units]', rotation=90, ha='center', va='center', fontsize=20)
    fig.text(fx(239), fy(132.5), 's\u22640.8', ha='center', va='center', fontsize=20.5)
    fig.text(fx(240.5), fy(909.5), 's>0.8', ha='center', va='center', fontsize=20.5)

    draw_legend(fig, 0)
    draw_legend(fig, 777)

    fig.savefig('out.png', dpi=100)


if __name__ == '__main__':
    main()
